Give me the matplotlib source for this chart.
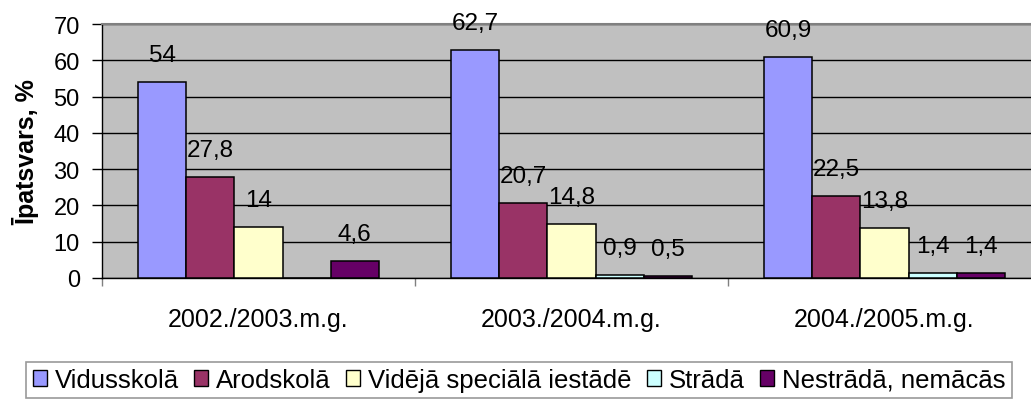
import matplotlib
matplotlib.use("Agg")
import matplotlib.pyplot as plt
import numpy as np

plt.rcParams['font.family'] = ['Liberation Sans', 'DejaVu Sans']

years = ["2002./2003.m.g.", "2003./2004.m.g.", "2004./2005.m.g."]
series = ["Vidusskolā", "Arodskolā", "Vidējā speciālā iestādē", "Strādā", "Nestrādā, nemācās"]
vidusskola = [54, 62.7, 60.9]
arodskola = [27.8, 20.7, 22.5]
videja = [14, 14.8, 13.8]
strada = [0, 0.9, 1.4]
nestrada = [4.6, 0.5, 1.4]
labels = [["54", "62,7", "60,9"],
          ["27,8", "20,7", "22,5"],
          ["14", "14,8", "13,8"],
          ["", "0,9", "1,4"],
          ["4,6", "0,5", "1,4"]]
colors = ["#9999FF", "#993366", "#FFFFCC", "#CCFFFF", "#660066"]

values = [vidusskola, arodskola, videja, strada, nestrada]

fig = plt.figure(figsize=(10.31, 4.02), dpi=100)
ax = fig.add_axes([102 / 1031, 123 / 402, 939 / 1031, 254 / 402])
ax.set_facecolor("#C0C0C0")

x = np.arange(len(years))
w = 1 / 6.5
for i, (vals, name, c) in enumerate(zip(values, series, colors)):
    pos = x - 2.5 * w + (i + 0.5) * w
    ax.bar(pos, vals, width=w, color=c, edgecolor="black", linewidth=1.1,
           label=name, zorder=3)
    for p, v, t in zip(pos, vals, labels[i]):
        if t:
            ax.annotate(t, (p, v), xytext=(0, 19.5), textcoords="offset points",
                        ha="center", va="center", fontsize=17.5, zorder=4)

ax.set_ylim(0, 70)
ax.set_xlim(-0.5, 2.5)
ax.set_yticks(range(0, 71, 10))
ax.yaxis.grid(True, color="black", linewidth=1.0, zorder=1)
ax.tick_params(axis="y", labelsize=17, length=7, width=1, pad=9)

ax.set_xticks(x)
ax.set_xticklabels(years, fontsize=18)
ax.set_xticks([-0.5, 0.5, 1.5, 2.5], minor=True)
ax.tick_params(axis="x", which="major", length=0, pad=21)
ax.tick_params(axis="x", which="minor", length=6, width=1, color="#808080")

for s in ["left", "bottom"]:
    ax.spines[s].set_color("black")
    ax.spines[s].set_linewidth(1.0)
ax.spines["top"].set_color("#808080")
ax.spines["top"].set_linewidth(1.5)
ax.spines["right"].set_visible(False)

ax.set_ylabel("Īpatsvars, %", fontsize=18, fontweight="bold", labelpad=10)

leg = fig.legend(loc="center", bbox_to_anchor=(519 / 1031, 1 - 381 / 402), ncol=5,
                 fontsize=18.5, frameon=True, fancybox=False, handlelength=0.55,
                 handleheight=0.55, handletextpad=0.3, columnspacing=0.6,
                 borderpad=0.25, borderaxespad=0)
leg.get_frame().set_edgecolor("#808080")
leg.get_frame().set_linewidth(1.2)
for h in leg.legend_handles:
    h.set_linewidth(1.0)

fig.savefig("out.png", dpi=100)
